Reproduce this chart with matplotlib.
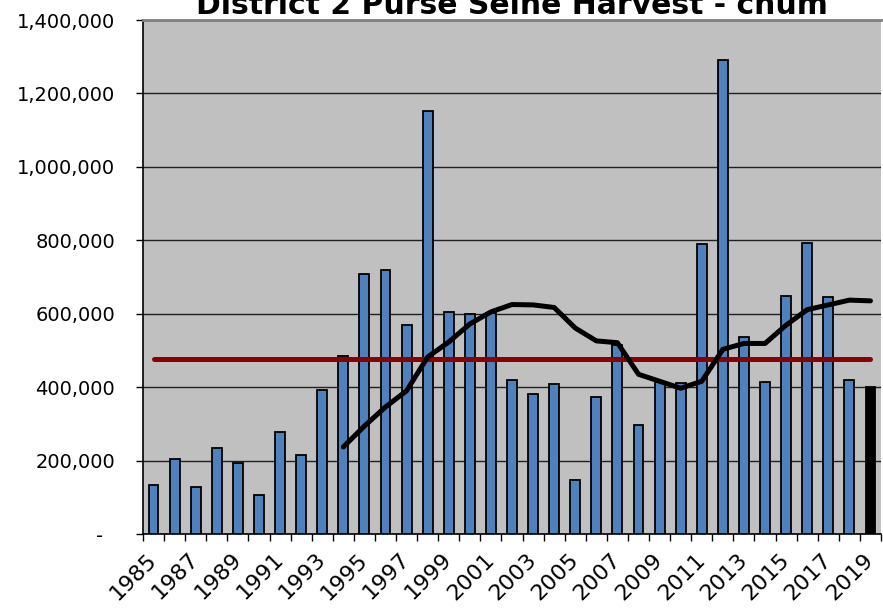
import numpy as np
import matplotlib
matplotlib.use("Agg")
import matplotlib.pyplot as plt
from matplotlib.ticker import FuncFormatter, MultipleLocator

# District 2 purse seine chum harvest
years = list(range(1985, 2020))
harvest = [133000, 204000, 128000, 234000, 193000, 106000, 278000, 215000, 392000, 485000,
           707000, 720000, 569000, 1153000, 605000, 599000, 603000, 420000, 381000, 409000,
           147000, 373000, 515000, 297000, 414000, 412000, 790000, 1292000, 537000, 414000,
           648000, 793000, 646000, 420000, 400000]

# 10-year running average (black line), starts in 1994
avg_years = list(range(1994, 2020))
avg_10yr = [237000, 294000, 346000, 390000, 482000, 523000, 572000, 605000, 625000, 624000,
            617000, 561000, 526000, 521000, 435000, 416000, 397000, 416000, 503000, 519000,
            519000, 569000, 611000, 624000, 637000, 635000]

# long term average (red line)
long_avg = 477000

plt.rcParams['font.family'] = ['DejaVu Sans']

fig = plt.figure(figsize=(8.83, 6.14), dpi=100)
ax = fig.add_axes([143/883, 1 - 534/614, 738/883, 514/614])
ax.set_facecolor('#c0c0c0')

colors = ['#4f81bd'] * (len(years) - 1) + ['#000000']
ax.bar(years, harvest, width=0.47, color=colors, edgecolor='black', linewidth=1.3, zorder=3)

ax.plot([years[0], years[-1]], [long_avg, long_avg], color='#8b0000', lw=3.6,
        solid_capstyle='round', zorder=4)
ax.plot(avg_years, avg_10yr, color='black', lw=3.6, solid_joinstyle='round',
        solid_capstyle='round', zorder=5)

ax.set_xlim(1984.5, 2019.5)
ax.set_ylim(0, 1400000)

ax.yaxis.set_major_locator(MultipleLocator(200000))
ax.yaxis.set_major_formatter(FuncFormatter(lambda v, p: '-  ' if v == 0 else f'{int(v):,}'))
ax.grid(axis='y', color='#202020', lw=1.0, zorder=1)
ax.tick_params(axis='y', length=5, width=1, pad=15, labelsize=14, colors='black')

ax.set_xticks(years[::2])
ax.set_xticklabels([str(y) for y in years[::2]], rotation=45, ha='right',
                   va='center', rotation_mode='anchor', fontsize=16)
ax.set_xticks(np.arange(1984.5, 2020, 1), minor=True)
ax.tick_params(axis='x', which='major', length=0, pad=16)
ax.tick_params(axis='x', which='minor', length=5, width=1)

for s in ['left', 'bottom']:
    ax.spines[s].set_color('black')
    ax.spines[s].set_linewidth(1.2)
ax.spines['top'].set_color('#808080')
ax.spines['top'].set_linewidth(2)
ax.spines['right'].set_visible(False)

# title sits partly above the top edge, as in the original image
fig.text(512/883, 1 - 14/614, 'District 2 Purse Seine Harvest - chum', ha='center',
         va='baseline', fontsize=21.5, fontweight='bold')

fig.savefig('out.png', dpi=100)
